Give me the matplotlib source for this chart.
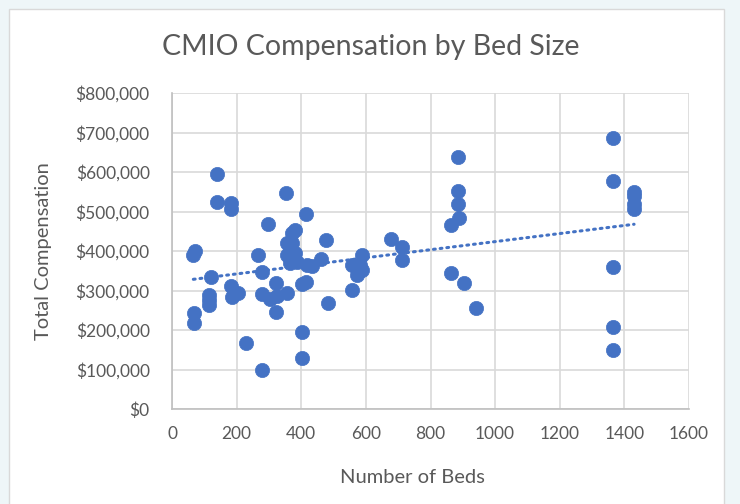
import matplotlib

matplotlib.use("Agg")
import matplotlib.pyplot as plt
import numpy as np
from matplotlib.patches import Rectangle
from matplotlib.ticker import FuncFormatter, MultipleLocator

# beds vs total CMIO compensation
BEDS = [
    66, 71, 68, 68,
    116, 116, 116, 121, 140, 140,
    182, 182, 184, 185, 205, 229,
    266, 280, 280, 280, 298, 302, 322, 322, 326,
    354, 355, 355, 356, 370, 381, 372, 381, 370, 365, 386,
    403, 403, 403, 416, 415, 417, 432, 461, 477, 482,
    558, 556, 582, 587, 587, 572,
    678, 712, 712,
    863, 863, 884, 884, 884, 888, 905, 941,
    1364, 1364, 1364, 1364, 1364,
    1430, 1430, 1430, 1430,
]
COMP = [
    390e3, 400e3, 244e3, 217e3,
    289e3, 276e3, 263e3, 335e3, 594e3, 524e3,
    522e3, 507e3, 312e3, 284e3, 293e3, 167e3,
    390e3, 346e3, 99e3, 292e3, 468e3, 279e3, 320e3, 245e3, 286e3,
    547e3, 419e3, 390e3, 294e3, 420e3, 454e3, 446e3, 394e3, 377e3, 369e3, 373e3,
    194e3, 128e3, 317e3, 321e3, 494e3, 365e3, 361e3, 380e3, 427e3, 268e3,
    301e3, 365e3, 365e3, 390e3, 352e3, 339e3,
    430e3, 410e3, 377e3,
    466e3, 344e3, 639e3, 552e3, 518e3, 483e3, 318e3, 256e3,
    687e3, 577e3, 360e3, 208e3, 149e3,
    550e3, 538e3, 518e3, 506e3,
]

BLUE = "#4472C4"
GREY_TXT = "#595959"
FONT = "Lato"

plt.rcParams["font.family"] = [FONT, "DejaVu Sans"]

fig = plt.figure(figsize=(7.4, 5.04), dpi=100)
fig.patch.set_facecolor("#EEF6F8")
# white chart panel with thin border, kept behind the axes
fig.patches.append(Rectangle((9 / 740, -0.05), 715 / 740, 1.05 - 9 / 504,
                             transform=fig.transFigure, facecolor="white",
                             edgecolor="#D9D9D9", linewidth=1, zorder=-10))

ax = fig.add_axes([172 / 740, 95 / 504, 517 / 740, 316 / 504])
ax.set_facecolor("white")

x = np.array(BEDS, dtype=float)
y = np.array(COMP, dtype=float)
ax.scatter(x, y, s=105, color=BLUE, edgecolors=BLUE, linewidths=0.5, zorder=3)

# linear trendline (Excel style, dotted)
k, b = np.polyfit(x, y, 1)
xt = np.array([x.min(), x.max()])
ax.plot(xt, k * xt + b, color=BLUE, linewidth=2.2,
        linestyle=(0, (0.6, 1.6)), dash_capstyle="round", zorder=2)

ax.set_xlim(0, 1600)
ax.set_ylim(0, 800000)
ax.xaxis.set_major_locator(MultipleLocator(200))
ax.yaxis.set_major_locator(MultipleLocator(100000))
ax.yaxis.set_major_formatter(FuncFormatter(lambda v, _: f"${v:,.0f}"))
ax.grid(True, color="#D9D9D9", linewidth=1.2, zorder=0)
ax.set_axisbelow(True)
for side in ["top", "right"]:
    ax.spines[side].set_visible(False)
for side in ["left", "bottom"]:
    ax.spines[side].set_color("#BFBFBF")
    ax.spines[side].set_linewidth(1.2)
ax.tick_params(length=0, labelsize=12.5, labelcolor=GREY_TXT)
ax.tick_params(axis="x", pad=12)
ax.tick_params(axis="y", pad=16)

ax.set_xlabel("Number of Beds", fontsize=14.5, color=GREY_TXT)
ax.set_ylabel("Total Compensation", fontsize=14.5, color=GREY_TXT)
ax.xaxis.set_label_coords((412 - 172) / 517, -(469 - 409) / 316)
ax.yaxis.set_label_coords((52 - 172) / 517, 0.5)

fig.text(371 / 740, 1 - 47 / 504, "CMIO Compensation by Bed Size",
         ha="center", va="center", fontsize=20.5, color=GREY_TXT)

fig.savefig("out.png", dpi=100, facecolor=fig.get_facecolor())
